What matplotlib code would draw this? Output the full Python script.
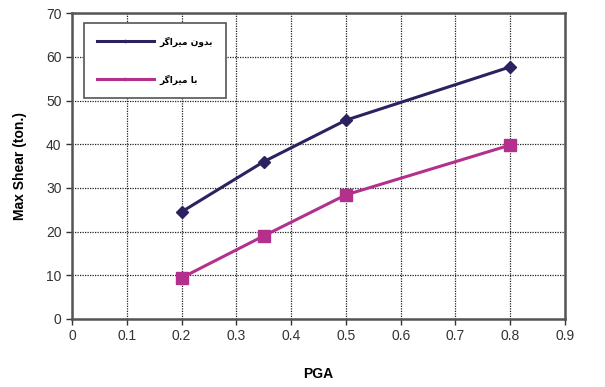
import matplotlib
matplotlib.use("Agg")
import matplotlib.pyplot as plt

# PGA vs. maximum base shear, with and without dampers
pga = [0.2, 0.35, 0.5, 0.8]
shear_no_damper = [24.5, 36.0, 45.5, 57.7]
shear_damper = [9.4, 19.0, 28.4, 39.8]
label_no_damper = "بدون میراگر"
label_damper = "با میراگر"

x_ticks = [0, 0.1, 0.2, 0.3, 0.4, 0.5, 0.6, 0.7, 0.8, 0.9]
x_ticklabels = ["0", "0.1", "0.2", "0.3", "0.4", "0.5", "0.6", "0.7", "0.8", "0.9"]
y_ticks = [0, 10, 20, 30, 40, 50, 60, 70]

# contextual forms (isolated, final, initial, medial) for the letters used
FORMS = {
    "ب": "\uFE8F\uFE90\uFE91\uFE92",
    "د": "\uFEA9\uFEAA\uFEA9\uFEAA",
    "و": "\uFEED\uFEEE\uFEED\uFEEE",
    "ن": "\uFEE5\uFEE6\uFEE7\uFEE8",
    "م": "\uFEE1\uFEE2\uFEE3\uFEE4",
    "ی": "\uFBFC\uFBFD\uFBFE\uFBFF",
    "ر": "\uFEAD\uFEAE\uFEAD\uFEAE",
    "ا": "\uFE8D\uFE8E\uFE8D\uFE8E",
    "گ": "\uFB92\uFB93\uFB94\uFB95",
}
NON_JOINING = set("ادذرزژو")


def shape(text):
    # matplotlib has no arabic shaping, so pick the forms and reverse by hand
    out = []
    for i, ch in enumerate(text):
        if ch not in FORMS:
            out.append(ch)
            continue
        prev = text[i - 1] if i > 0 else ""
        nxt = text[i + 1] if i + 1 < len(text) else ""
        joins_prev = prev in FORMS and prev not in NON_JOINING
        joins_next = nxt in FORMS and ch not in NON_JOINING
        iso, fin, ini, med = FORMS[ch]
        if joins_prev and joins_next:
            out.append(med)
        elif joins_prev:
            out.append(fin)
        elif joins_next:
            out.append(ini)
        else:
            out.append(iso)
    return "".join(reversed(out))


plt.rcParams["font.family"] = ["Liberation Sans", "DejaVu Sans"]

fig = plt.figure(figsize=(6.05, 3.87), dpi=100)
ax = fig.add_axes([0.119, 0.176, 0.815, 0.79])

ax.plot(pga, shear_no_damper, color="#2a2360", lw=2.2, marker="D", ms=6.5,
        label=shape(label_no_damper), zorder=3)
ax.plot(pga, shear_damper, color="#b3308c", lw=2.2, marker="s", ms=9,
        label=shape(label_damper), zorder=3)

ax.set_xlim(0, 0.9)
ax.set_ylim(0, 70)
ax.set_xticks(x_ticks)
ax.set_xticklabels(x_ticklabels)
ax.set_yticks(y_ticks)
ax.grid(True, color="#222222", linestyle=(0, (1, 1)), lw=0.9)
ax.tick_params(labelsize=10, colors="#333333", length=4, width=1)
for s in ax.spines.values():
    s.set_color("#555555")
    s.set_linewidth(1.8)

ax.set_xlabel("PGA", fontsize=10, fontweight="bold", labelpad=17)
ax.set_ylabel("Max Shear (ton.)", fontsize=10, fontweight="bold", labelpad=14)

leg = ax.legend(loc="upper left", bbox_to_anchor=(0.024, 0.967), borderaxespad=0,
                fancybox=False, edgecolor="#555555", framealpha=1,
                handlelength=6.3, handletextpad=0.6, labelspacing=3.05,
                borderpad=1.45, markerscale=0.2,
                prop={"family": ["DejaVu Sans"], "size": 6.5, "weight": "bold"})
leg.get_frame().set_linewidth(1.2)

fig.savefig("out.png", dpi=100)
